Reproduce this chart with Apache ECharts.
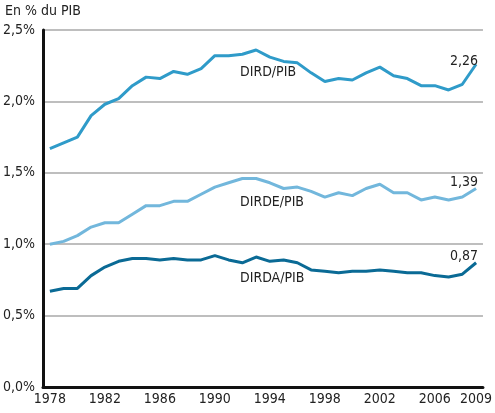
<!DOCTYPE html>
<html>
<head>
<meta charset="utf-8">
<script src="https://cdn.jsdelivr.net/npm/echarts@6/dist/echarts.min.js"></script>
<style>
  html, body { margin: 0; padding: 0; background: #fff; }
  #chart { width: 495px; height: 413px; }
</style>
</head>
<body>
<div id="chart"></div>
<script>
// années 1978 - 2009
const years = []
for (let y = 1978; y <= 2009; y++) years.push(String(y))

// DIRD / PIB (%)
const dird = [1.67, 1.71, 1.75, 1.90, 1.98, 2.02, 2.11, 2.17, 2.16, 2.21, 2.19, 2.23, 2.32, 2.32, 2.33, 2.36,
  2.31, 2.28, 2.27, 2.20, 2.14, 2.16, 2.15, 2.20, 2.24, 2.18, 2.16, 2.11, 2.11, 2.08, 2.12, 2.26]
// DIRDE / PIB (%)
const dirde = [1.00, 1.02, 1.06, 1.12, 1.15, 1.15, 1.21, 1.27, 1.27, 1.30, 1.30, 1.35, 1.40, 1.43, 1.46, 1.46,
  1.43, 1.39, 1.40, 1.37, 1.33, 1.36, 1.34, 1.39, 1.42, 1.36, 1.36, 1.31, 1.33, 1.31, 1.33, 1.39]
// DIRDA / PIB (%)
const dirda = [0.67, 0.69, 0.69, 0.78, 0.84, 0.88, 0.90, 0.90, 0.89, 0.90, 0.89, 0.89, 0.92, 0.89, 0.87, 0.91,
  0.88, 0.89, 0.87, 0.82, 0.81, 0.80, 0.81, 0.81, 0.82, 0.81, 0.80, 0.80, 0.78, 0.77, 0.79, 0.87]

const seriesNames = ['DIRD/PIB', 'DIRDE/PIB', 'DIRDA/PIB']
const yTicks = [0, 0.5, 1.0, 1.5, 2.0, 2.5]

const font = "'DejaVu Sans Condensed', 'Liberation Sans Narrow', sans-serif"
const txt = '#222'

const fmt = v => v.toFixed(2).replace('.', ',')

// étiquette de valeur sur le dernier point
function lineData(values, dy) {
  return values.map((v, i) => i === values.length - 1
    ? {
        value: v,
        label: {
          show: true, position: 'top', offset: [-12, dy],
          formatter: p => fmt(p.value),
          color: txt, fontFamily: font, fontSize: 14
        }
      }
    : v)
}

const chart = echarts.init(document.getElementById('chart'))

const option = {
  animation: false,
  grid: { left: 43, right: 5, top: 30, bottom: 26 },
  xAxis: {
    type: 'category',
    data: years,
    boundaryGap: true,
    axisLine: { lineStyle: { color: '#111', width: 3 } },
    axisTick: { interval: 0, length: 6, lineStyle: { color: '#111', width: 2 } },
    axisLabel: {
      interval: (i, v) => (Number(v) - 1978) % 4 === 0 || v === '2009',
      color: txt, fontFamily: font, fontSize: 14, margin: 5
    }
  },
  yAxis: {
    type: 'value',
    min: 0, max: 2.5, interval: 0.5,
    axisLine: { show: true, lineStyle: { color: '#111', width: 3 } },
    axisTick: { show: false },
    axisLabel: {
      formatter: v => yTicks.includes(v) ? v.toFixed(1).replace('.', ',') + '%' : '',
      color: txt, fontFamily: font, fontSize: 14, margin: 8
    },
    splitLine: { lineStyle: { color: '#a8a8a8', width: 1.5 } }
  },
  series: [
    { name: seriesNames[0], type: 'line', data: lineData(dird, 9), symbol: 'circle', symbolSize: 0,
      lineStyle: { color: '#2f9bc9', width: 3 }, itemStyle: { color: '#2f9bc9' } },
    { name: seriesNames[1], type: 'line', data: lineData(dirde, 6), symbol: 'circle', symbolSize: 0,
      lineStyle: { color: '#72b7dc', width: 3 }, itemStyle: { color: '#72b7dc' } },
    { name: seriesNames[2], type: 'line', data: lineData(dirda, 6), symbol: 'circle', symbolSize: 0,
      lineStyle: { color: '#0a6a95', width: 3 }, itemStyle: { color: '#0a6a95' } }
  ],
  graphic: [
    { type: 'text', left: 5, top: 4,
      style: { text: 'En % du PIB', fill: txt, font: '14px ' + font } },
    { type: 'text', left: 240, top: 65,
      style: { text: seriesNames[0], fill: txt, font: '14px ' + font } },
    { type: 'text', left: 240, top: 195,
      style: { text: seriesNames[1], fill: txt, font: '14px ' + font } },
    { type: 'text', left: 240, top: 271,
      style: { text: seriesNames[2], fill: txt, font: '14px ' + font } }
  ]
}

chart.setOption(option)
</script>
</body>
</html>
